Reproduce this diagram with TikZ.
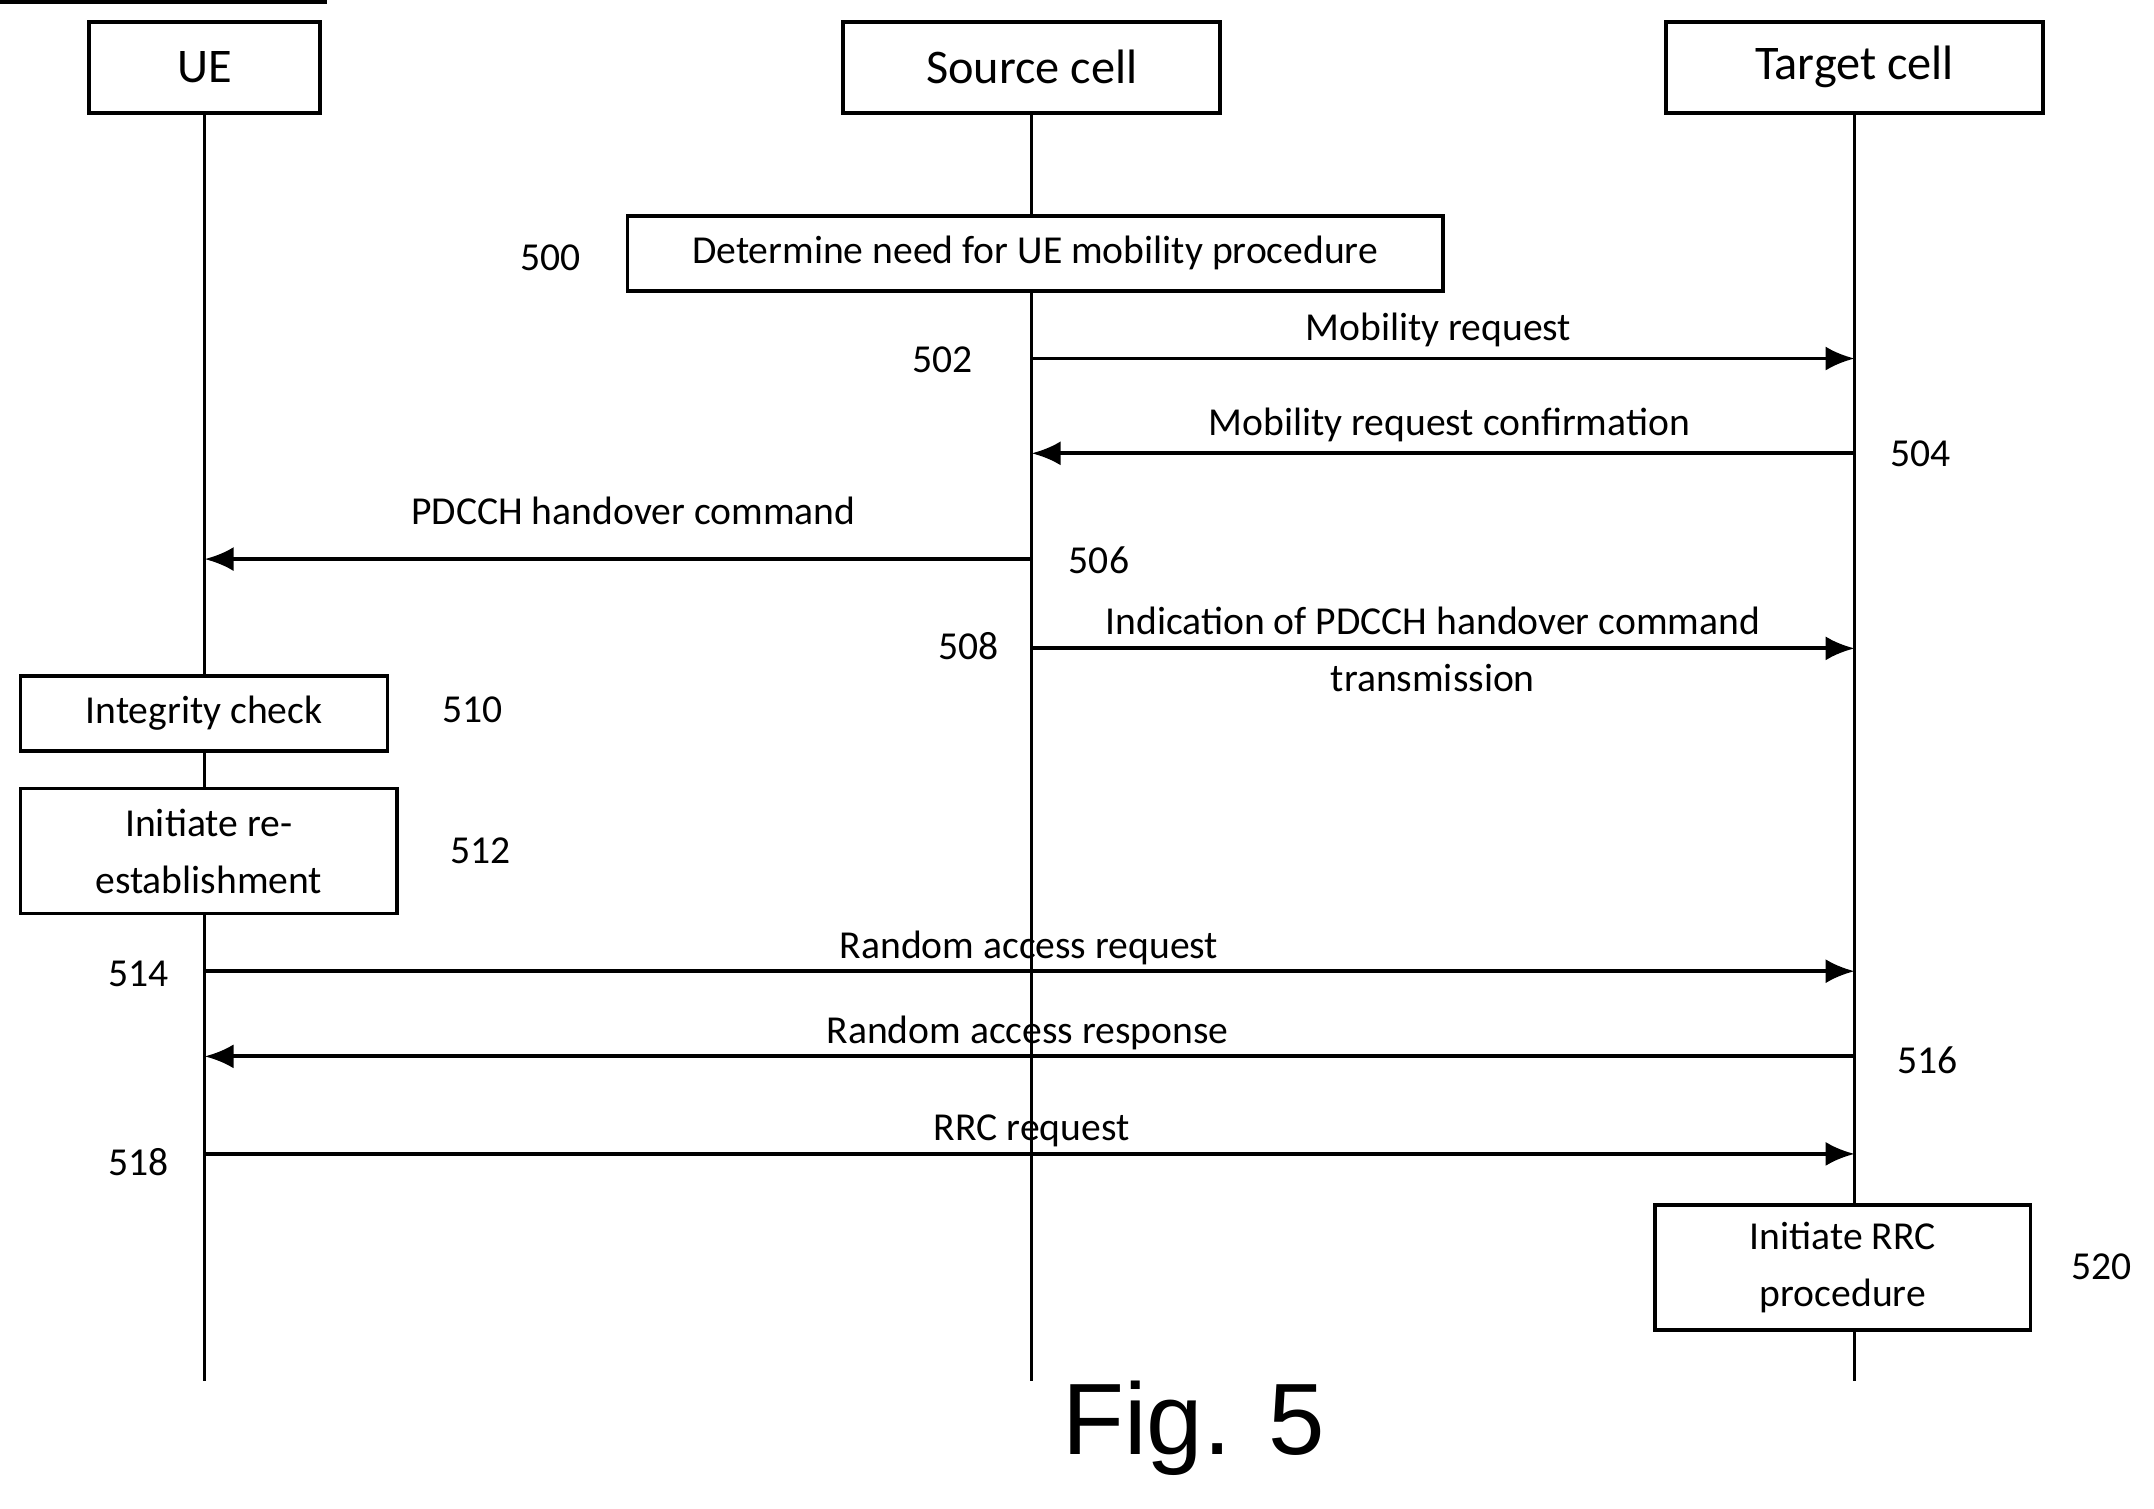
\documentclass[tikz,border=0pt]{standalone}
\usepackage{fontspec}
\setmainfont{Carlito}
\newfontfamily\figfont{Liberation Sans}
\usetikzlibrary{arrows.meta}
\begin{document}
\begin{tikzpicture}[x=0.01cm,y=-0.01cm,
  box/.style={draw,line width=0.8pt,inner sep=0pt,align=center},
  lab/.style={font=\fontsize{8.2}{9.8}\selectfont,inner sep=0pt},
  msg/.style={line width=0.8pt,-{Latex[length=6pt,width=5pt]}},
  life/.style={line width=0.6pt}]
\useasboundingbox (0,0) rectangle (1568,1098);
% headers
\node[box,minimum width=168\pgflinewidth] at (0,0) {};
\node[draw,line width=0.8pt,minimum width=1.68cm,minimum height=0.66cm,font=\fontsize{10}{12}\selectfont] (ue) at (149,49) {UE};
\node[draw,line width=0.8pt,minimum width=2.74cm,minimum height=0.66cm,font=\fontsize{10}{12}\selectfont] (sc) at (751,49) {Source cell};
\node[draw,line width=0.8pt,minimum width=2.74cm,minimum height=0.66cm,font=\fontsize{10}{12}\selectfont] (tc) at (1350,49) {Target cell};
\coordinate (ueE) at (149,1005);
\coordinate (scE) at (751,1005);
\coordinate (tcE) at (1350,1005);
\draw[life] (ue) -- (ueE);
\draw[life] (sc) -- (scE);
\draw[life] (tc) -- (tcE);
% step boxes
\node[draw,line width=0.8pt,minimum width=5.93cm,minimum height=0.55cm,lab,fill=white] (b500) at (753.5,184.5) {Determine need for UE mobility procedure};
\node[draw,line width=0.8pt,minimum width=2.67cm,minimum height=0.55cm,lab,fill=white] (b510) at (148.5,519.5) {Integrity check};
\node[draw,line width=0.8pt,minimum width=2.74cm,minimum height=0.91cm,lab,fill=white,align=center] (b512) at (152,619.5) {Initiate re-\\[2pt]establishment};
\node[draw,line width=0.8pt,minimum width=2.73cm,minimum height=0.91cm,lab,fill=white,align=center] (b520) at (1341.5,922.5) {Initiate RRC\\[2pt]procedure};
% coordinates on lifelines
\foreach \n/\y in {502/261,504/330,506/407,508/472,514/707,516/769,518/840}{
  \coordinate (u\n) at (149,\y); \coordinate (s\n) at (751,\y); \coordinate (t\n) at (1350,\y);}
\draw[msg] (s502) -- (t502);
\draw[msg] (t504) -- (s504);
\draw[msg] (s506) -- (u506);
\draw[msg] (s508) -- (t508);
\draw[msg] (u514) -- (t514);
\draw[msg] (t516) -- (u516);
\draw[msg] (u518) -- (t518);
% labels
\node[lab] (l502) at (1047,240) {Mobility request};
\node[lab] (l504) at (1055,309) {Mobility request confirmation};
\node[lab] (l506) at (461,372) {PDCCH handover command};
\node[lab,align=center] (l508) at (1043,473) {Indication of PDCCH handover command\\[2pt]transmission};
\node[lab] (l514) at (749,690) {Random access request};
\node[lab] (l516) at (748,752) {Random access response};
\node[lab] (l518) at (751,823) {RRC request};
% numbers
\node[lab] (n500) at (401,188) {500};
\node[lab] (n502) at (686,262) {502};
\node[lab] (n504) at (1398,330) {504};
\node[lab] (n506) at (800,408) {506};
\node[lab] (n508) at (705,470) {508};
\node[lab] (n510) at (344,517) {510};
\node[lab] (n512) at (350,619) {512};
\node[lab] (n514) at (101,709) {514};
\node[lab] (n516) at (1403,772) {516};
\node[lab] (n518) at (101,846) {518};
\node[lab] (n520) at (1530,922) {520};
\node[font=\figfont\fontsize{21}{24}\selectfont,inner sep=0pt] (fig) at (869,1040) {Fig. 5};
\end{tikzpicture}
\end{document}
